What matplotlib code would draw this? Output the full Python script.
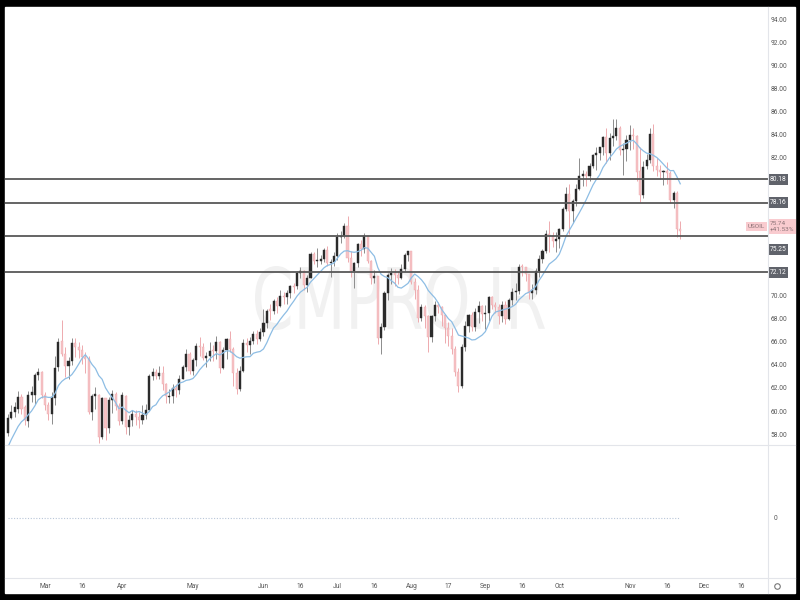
import numpy as np
import pandas as pd
import matplotlib
matplotlib.use('Agg')
import matplotlib.pyplot as plt
import matplotlib.transforms as mtransforms
from matplotlib.patches import Rectangle, PathPatch
from matplotlib.lines import Line2D
from matplotlib.textpath import TextPath
from matplotlib.font_manager import FontProperties

plt.rcParams['font.family'] = ['Roboto', 'DejaVu Sans']

# daily USOIL bars, 2021-02-12 .. 2021-11-22 (no bar on Good Friday)
start_date = '2021-02-12'
end_date = '2021-12-31'
closed_days = ['2021-04-02']

opens = [
    # Feb
    58.2, 59.5, 60.0, 60.3, 61.3, 60.4, 59.2, 61.5, 61.5, 63.2, 63.5,
    # Mar
    61.5, 60.6, 59.8, 61.2, 63.9, 66.2, 65.0, 64.0, 64.4, 66.0, 65.6, 65.4, 64.8, 64.6, 60.0, 61.4,
    61.5, 57.8, 61.2, 58.6, 61.0, 61.6, 60.5,
    # Apr
    59.2, 61.4, 58.7, 59.3, 59.8, 59.6, 59.3, 59.7, 60.2, 63.1, 63.5, 63.1, 63.4, 62.4, 61.3, 61.4,
    62.1, 61.9, 62.9, 63.9, 65.0,
    # May
    63.6, 64.5, 65.7, 65.6, 64.7, 64.9, 65.4, 65.3, 66.1, 63.8, 65.4, 66.3, 65.5, 63.4, 62.0, 63.6,
    66.0, 65.8, 66.2, 66.8, 66.3,
    # Jun
    66.9, 67.7, 68.9, 68.8, 69.6, 69.2, 70.05, 69.96, 70.3, 70.9, 70.9, 72.1, 72.2, 71.0, 71.6, 73.7,
    73.1, 73.1, 73.3, 74.05, 72.9, 73.0,
    # Jul
    73.5, 75.2, 75.3, 76.1, 73.4, 72.2, 72.9, 74.6, 74.1, 75.25, 73.1, 71.65, 71.8, 66.4, 67.4, 70.3,
    71.9, 72.1, 71.9, 71.65, 72.4, 73.6,
    # Aug
    73.95, 71.3, 70.56, 68.15, 69.1, 68.3, 66.5, 68.3, 69.25, 69.1, 68.4, 67.3, 66.6, 65.5, 63.5, 62.3,
    65.6, 67.5, 68.4, 67.4, 68.7, 69.2,
    # Sep
    68.5, 68.6, 70.0, 69.3, 69.1, 68.35, 69.3, 68.1, 69.7, 70.45, 70.5, 72.7, 72.6, 72.0, 70.3, 70.56,
    72.2, 73.3, 74.0, 75.45, 75.3, 74.8,
    # Oct
    75.0, 75.9, 77.6, 78.9, 77.4, 78.3, 79.35, 80.5, 80.64, 80.44, 81.3, 82.3, 82.44, 82.96, 83.87, 82.5,
    83.76, 83.9, 84.65, 82.7, 82.8,
    # Nov
    83.57, 84.05, 83.9, 80.9, 78.8, 81.3, 81.9, 84.15, 81.3, 81.0, 80.8, 80.9, 80.76, 78.4, 79.0, 75.9,
]
highs = [
    59.8, 60.6, 60.9, 61.8, 61.6, 60.6, 61.8, 62.3, 63.4, 63.8, 63.6,
    61.7, 60.9, 61.7, 64.9, 66.4, 67.98, 65.6, 64.8, 66.4, 66.4, 66.1, 65.8, 65.2, 64.9, 61.6, 62.2,
    61.6, 61.3, 61.2, 61.3, 61.9, 61.7, 60.8,
    61.7, 61.5, 59.7, 60.2, 60.2, 60.0, 60.6, 60.7, 63.3, 63.8, 63.7, 64.0, 64.0, 62.5, 62.0, 62.4,
    62.4, 63.2, 64.1, 65.5, 65.2,
    64.7, 66.0, 66.5, 66.0, 65.2, 66.1, 65.8, 66.6, 66.2, 65.6, 66.4, 67.0, 65.6, 63.8, 64.0, 66.3,
    66.4, 66.5, 67.0, 67.1, 67.3,
    68.9, 68.9, 69.4, 69.8, 70.0, 70.6, 70.4, 70.6, 71.0, 71.2, 72.2, 72.6, 72.3, 71.9, 73.9, 73.9,
    74.2, 73.6, 74.2, 74.4, 73.3, 73.9,
    75.5, 75.7, 76.4, 76.98, 74.0, 73.0, 74.7, 74.9, 75.5, 75.3, 73.2, 72.3, 71.8, 67.7, 70.5, 72.1,
    72.5, 72.4, 72.2, 72.8, 73.8, 74.0,
    74.0, 71.6, 71.0, 69.4, 69.3, 68.4, 68.4, 69.6, 69.5, 69.2, 68.5, 67.8, 67.3, 65.7, 63.8, 65.9,
    67.9, 68.5, 68.7, 69.0, 69.6, 69.3,
    69.3, 70.1, 70.1, 69.5, 69.4, 69.6, 69.6, 69.9, 70.8, 71.2, 72.8, 72.8, 72.6, 72.0, 71.1, 72.5,
    73.6, 74.1, 75.8, 76.6, 75.6, 75.6,
    76.0, 77.8, 79.5, 79.8, 78.5, 79.8, 82.0, 81.0, 80.9, 81.6, 82.4, 83.0, 83.0, 83.9, 84.6, 84.2,
    85.4, 85.4, 84.8, 83.3, 84.0,
    84.9, 84.6, 84.0, 83.0, 81.8, 82.4, 84.6, 84.97, 82.0, 81.4, 81.0, 81.7, 80.9, 79.2, 79.2, 76.6,
]
lows = [
    57.9, 59.4, 59.6, 59.9, 59.8, 58.9, 58.7, 60.9, 60.7, 62.8, 61.2,
    60.2, 59.3, 59.0, 60.6, 63.6, 64.9, 63.0, 62.9, 64.1, 64.8, 64.7, 64.2, 63.4, 59.8, 59.3, 60.3,
    57.3, 57.7, 57.6, 58.2, 59.9, 60.2, 58.9,
    59.0, 58.1, 58.0, 58.8, 58.9, 58.6, 59.0, 59.4, 60.1, 62.8, 62.9, 62.9, 61.9, 60.8, 60.8, 60.8,
    61.3, 61.6, 62.9, 63.6, 63.3,
    63.2, 64.0, 64.9, 64.5, 63.9, 64.4, 64.4, 64.6, 63.4, 63.7, 64.6, 65.2, 62.3, 61.6, 61.8, 63.5,
    65.2, 65.0, 65.9, 65.9, 66.2,
    66.6, 67.3, 68.0, 68.5, 68.6, 69.1, 69.4, 69.4, 69.9, 70.3, 70.7, 71.6, 70.6, 70.4, 71.6, 72.8,
    72.6, 72.8, 73.0, 72.7, 71.7, 72.7,
    73.2, 74.7, 75.1, 73.0, 71.7, 70.8, 72.6, 73.5, 73.8, 72.9, 71.1, 71.2, 65.9, 65.0, 67.1, 69.7,
    71.1, 70.9, 71.1, 71.5, 72.2, 73.1,
    71.1, 69.8, 67.8, 67.9, 67.3, 65.2, 66.1, 67.9, 68.6, 67.5, 66.0, 65.7, 65.0, 63.1, 61.75, 62.1,
    65.3, 66.9, 67.0, 67.0, 67.7, 67.9,
    67.2, 67.9, 68.9, 68.6, 67.6, 67.8, 67.6, 68.0, 69.3, 69.7, 70.2, 71.8, 71.4, 69.8, 69.8, 70.2,
    71.7, 72.9, 73.8, 73.9, 74.3, 73.9,
    74.2, 75.7, 77.4, 75.4, 76.4, 77.9, 79.3, 79.6, 79.6, 80.0, 81.2, 81.0, 81.9, 82.3, 81.6, 81.9,
    83.1, 83.6, 82.3, 80.6, 81.8,
    82.7, 82.8, 80.0, 78.25, 78.6, 81.1, 81.6, 80.9, 80.5, 80.2, 79.7, 79.8, 78.1, 77.7, 75.2, 75.0,
]
closes = [
    59.47, 60.0, 60.4, 61.3, 60.3, 59.3, 61.5, 61.7, 63.2, 63.5, 61.5,
    60.6, 59.8, 61.3, 63.8, 66.1, 65.05, 64.0, 64.4, 66.0, 65.6, 65.4, 64.8, 64.6, 60.0, 61.4, 61.6,
    57.8, 61.2, 58.6, 61.0, 61.6, 60.5, 59.2,
    61.45, 58.7, 59.3, 59.8, 59.6, 59.3, 59.7, 60.2, 63.1, 63.5, 63.1, 63.4, 62.4, 61.35, 61.4, 62.1,
    61.9, 62.9, 63.9, 65.0, 63.6,
    64.5, 65.7, 65.6, 64.7, 64.9, 65.3, 65.3, 66.1, 63.8, 65.4, 66.3, 65.5, 63.4, 62.0, 63.6, 66.0,
    65.8, 66.2, 66.8, 66.3, 66.9,
    67.7, 68.8, 68.8, 69.6, 69.2, 70.05, 69.96, 70.3, 70.9, 70.88, 72.1, 72.2, 71.0, 71.6, 73.7, 73.1,
    73.15, 73.3, 74.05, 72.9, 73.0, 73.5,
    75.2, 75.3, 76.1, 73.4, 72.2, 72.9, 74.6, 74.1, 75.25, 73.1, 71.65, 71.8, 66.4, 67.4, 70.3, 71.9,
    72.1, 71.9, 71.65, 72.4, 73.6, 73.95,
    71.3, 70.56, 68.15, 69.1, 68.3, 66.5, 68.3, 69.25, 69.1, 68.4, 67.3, 66.6, 65.5, 63.5, 62.3, 65.6,
    67.5, 68.4, 67.4, 68.7, 69.2, 68.5,
    68.6, 70.0, 69.3, 69.1, 68.35, 69.3, 68.1, 69.7, 70.45, 70.5, 72.6, 72.6, 72.0, 70.3, 70.56, 72.2,
    73.3, 74.0, 75.45, 75.3, 74.8, 75.0,
    75.9, 77.6, 78.9, 77.4, 78.3, 79.35, 80.5, 80.64, 80.44, 81.3, 82.3, 82.44, 82.96, 83.87, 82.5, 83.76,
    83.9, 84.65, 82.7, 82.8, 83.57,
    84.05, 83.9, 80.86, 78.8, 81.27, 81.9, 84.15, 81.3, 81.0, 80.8, 80.9, 80.76, 78.4, 79.0, 75.9, 75.74,
]
# closes before the first visible bar, used only to start the moving average
warmup_closes = [53.55, 54.76, 55.69, 56.23, 56.85, 57.97, 58.36, 58.68, 58.24]
ma_period = 10

levels = [80.18, 78.16, 75.25, 72.12]
symbol = 'USOIL'
last_price = 75.74
change_text = '+41.53%'
price_ticks = [94, 92, 90, 88, 86, 84, 82, 70, 68, 66, 64, 62, 60, 58]
time_labels = ['Mar', '16', 'Apr', 'May', 'Jun', '16', 'Jul', '16', 'Aug', '17',
               'Sep', '16', 'Oct', 'Nov', '16', 'Dec', '16']
time_dates = ['2021-03-01', '2021-03-16', '2021-04-01', '2021-05-03', '2021-06-01',
              '2021-06-16', '2021-07-01', '2021-07-16', '2021-08-02', '2021-08-17',
              '2021-09-01', '2021-09-16', '2021-10-01', '2021-11-01', '2021-11-16',
              '2021-12-01', '2021-12-16']
watermark = 'CMPRO.IR'

# calendar -> bar index
dates = pd.bdate_range(start_date, end_date)
dates = dates[~dates.isin(pd.to_datetime(closed_days))]
tick_pos = dates.get_indexer(pd.to_datetime(time_dates))

o = np.array(opens)
h = np.array(highs)
l = np.array(lows)
c = np.array(closes)
x = np.arange(len(c))
up = c >= o

all_closes = pd.Series(warmup_closes + closes)
ma = all_closes.rolling(ma_period).mean().iloc[len(warmup_closes):].values

W, H = 800, 600
fig = plt.figure(figsize=(8, 6), dpi=100, facecolor='black')


def fx(px):
    return px / W


def fy(py):
    return (H - py) / H


# white chart area inside the black frame
fig.patches.append(Rectangle((fx(5), fy(593)), fx(790), 586 / H,
                             transform=fig.transFigure, color='white', zorder=-1))

ax = fig.add_axes([fx(5), fy(445), fx(763), 438 / H])
ax2 = fig.add_axes([fx(5), fy(578), fx(763), 133 / H])
for a in (ax, ax2):
    a.set_facecolor('none')
    a.set_xticks([])
    a.set_yticks([])
    for s in a.spines.values():
        s.set_visible(False)
    a.set_xlim(-0.9, 226.1)

ax.set_ylim(57.14, 95.13)
ax2.set_ylim(-0.9, 1.1)

# watermark, squeezed horizontally like the original's condensed type
tp = TextPath((0, 0), watermark, size=1, prop=FontProperties(family='DejaVu Sans'))
bb = tp.get_extents()
wm_tr = (mtransforms.Affine2D()
         .translate(-bb.x0 - bb.width / 2, -bb.y0 - bb.height / 2)
         .scale(290 / bb.width, 64 / bb.height)
         .translate(400, H - 298))
ax.add_patch(PathPatch(tp, transform=wm_tr, fc='#f1f1f1', lw=0, zorder=0, clip_on=False))

# candles
up_body, up_wick = '#2b2b2b', '#8c8c8c'
dn_body, dn_wick = '#f6c3c5', '#eeaaae'
bottom = np.minimum(o, c)
height = np.maximum(np.abs(c - o), 0.07)
ax.vlines(x[up], l[up], h[up], color=up_wick, lw=0.7, zorder=2)
ax.vlines(x[~up], l[~up], h[~up], color=dn_wick, lw=0.7, zorder=2)
ax.bar(x[up], height[up], bottom=bottom[up], width=0.62, color=up_body,
       edgecolor=up_body, lw=0.3, zorder=3)
ax.bar(x[~up], height[~up], bottom=bottom[~up], width=0.62, color=dn_body,
       edgecolor=dn_wick, lw=0.3, zorder=3)

# moving average
ax.plot(x, ma, color='#8dbde4', lw=0.9, zorder=4)

# horizontal levels
for lv in levels:
    ax.axhline(lv, color='#585858', lw=1.3, zorder=5)

# right price scale
ytrans = mtransforms.blended_transform_factory(fig.transFigure, ax.transData)
for p in price_ticks:
    ax.text(fx(779), p, f'{p:.2f}', transform=ytrans, ha='center', va='center',
            fontsize=4.8, color='#555555')

box = dict(boxstyle='square,pad=0.3', fc='#60636b', ec='none')
for lv in levels:
    tr = ytrans
    if lv == levels[2]:
        tr = ytrans + mtransforms.ScaledTranslation(0, -13 / 100, fig.dpi_scale_trans)
    ax.text(fx(778), lv, f'{lv:.2f}', transform=tr, ha='center', va='center',
            fontsize=4.8, color='white', bbox=box, zorder=6)

lift = ytrans + mtransforms.ScaledTranslation(0, 4 / 100, fig.dpi_scale_trans)
pink_box = dict(boxstyle='square,pad=0.3', fc='#f9cbcf', ec='none')
ax.text(fx(765), last_price, symbol, transform=lift, ha='right', va='center',
        fontsize=4.6, color='#8d7478', bbox=pink_box, zorder=6)
ax.text(fx(770), last_price, f'{last_price:.2f}\n{change_text}', transform=lift,
        ha='left', va='center', fontsize=4.6, color='#8d7478', linespacing=1.1,
        bbox=pink_box, zorder=6)

# lower pane
ax2.hlines(0, x[0], x[-1], color='#b9c6d8', lw=0.8, linestyles=(0, (1, 1.5)))
ax2.text(fx(776), 0, '0', transform=mtransforms.blended_transform_factory(fig.transFigure, ax2.transData),
         ha='center', va='center', fontsize=4.8, color='#555555')

# time axis
ttrans = mtransforms.blended_transform_factory(ax2.transData, fig.transFigure)
for pos, lab in zip(tick_pos, time_labels):
    ax2.text(pos, fy(587), lab, transform=ttrans, ha='center', va='center',
             fontsize=4.8, color='#555555', clip_on=False)

# pane separators
sep = '#e3e5ea'
fig.add_artist(Line2D([fx(768), fx(768)], [fy(7), fy(593)], color=sep, lw=0.8))
fig.add_artist(Line2D([fx(5), fx(795)], [fy(445), fy(445)], color=sep, lw=0.8))
fig.add_artist(Line2D([fx(5), fx(795)], [fy(578), fy(578)], color=sep, lw=0.8))
fig.add_artist(Line2D([fx(777)], [fy(586)], marker='o', mfc='none', mec='#777777',
                      ms=4, mew=0.8))

fig.savefig('out.png', dpi=100, facecolor=fig.get_facecolor())
